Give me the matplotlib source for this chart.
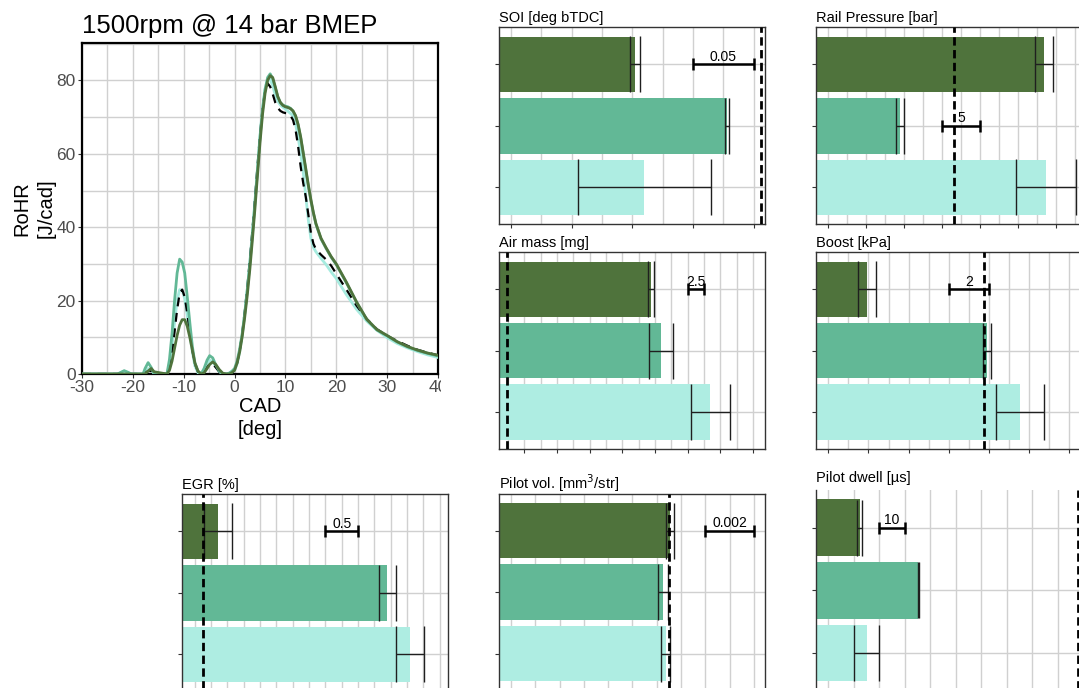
import numpy as np
import matplotlib
matplotlib.use('Agg')
import matplotlib.pyplot as plt
from matplotlib.transforms import Bbox, TransformedBbox

plt.rcParams['font.family'] = ['Liberation Sans', 'DejaVu Sans']
plt.rcParams['axes.unicode_minus'] = False

# ---------------- data: rate of heat release ----------------
cad = [-30, -23, -22.3, -21.7, -21, -20.3, -18, -17.6, -17, -16.4, -15.8, -13.3, -12.8, -12.3, -11.8, -11.3,
       -10.8, -10.3, -9.8, -9.3, -8.8, -8.3, -7.8, -7.2, -6.6, -6, -5.4, -4.9, -4.3, -3.7, -3, -2.3, -1.5, -1,
       -0.5, 0, 0.5, 1, 1.5, 2, 2.5, 3, 3.5, 4, 4.5, 5, 5.5, 6, 6.5, 7, 7.5, 8, 8.5, 9, 9.5, 10, 10.5, 11, 11.5,
       12, 12.5, 13, 13.5, 14, 14.5, 15, 15.5, 16, 17, 18, 19, 20, 22, 24, 26, 28, 30, 32, 34, 36, 38, 40]

rohr_mid = [0, 0, 0.5, 0.9, 0.5, 0, 0, 1.5, 3.1, 1.8, 0, 0, 4, 11, 20, 27.5,
            31.3, 30.5, 27.5, 21, 14, 7.5, 3, 0.8, 0, 1.5, 3.8, 5, 4.4, 2.5, 0.8, 0, 0, 0.3,
            0.8, 1.5, 3.5, 6.8, 11, 16.5, 23, 30, 38, 46.5, 55.5, 64.5, 72, 77.5, 80.8, 81.8, 80.5, 78, 75.5, 74, 73.3, 73, 72.8, 72.4, 71.6,
            70.2, 67.8, 64.3, 60, 55.5, 51.2, 47.2, 43.8, 40.8, 36.8, 34.2, 31.8, 29.8, 24.8, 19.5, 14.8, 12, 10.4, 8.7, 7.4, 6.4, 5.6, 4.9]

rohr_dark = [0, 0, 0, 0, 0, 0, 0, 0, 0.8, 1.5, 0.6, 0, 1, 3.5, 7, 10.5,
             13.3, 14.8, 14.8, 13, 10, 6.5, 3, 0.8, 0, 0.3, 1.5, 2.6, 3.3, 2.6, 1.2, 0.2, 0, 0,
             0.4, 1, 3, 6, 10.2, 15.5, 21.5, 28.5, 36.5, 45, 54, 63, 70.8, 76.5, 80, 81.3, 80.8, 78.3, 75.6, 74, 73.2, 72.8, 72.6, 72.3, 71.7,
             70.4, 68, 64.6, 60.3, 56, 51.6, 47.6, 44, 41, 37, 34.4, 32, 30, 25, 19.6, 14.9, 12.1, 10.5, 8.8, 7.5, 6.5, 5.7, 5.1]

rohr_light = [0, 0, 0.4, 0.8, 0.4, 0, 0, 0.6, 1.5, 1.2, 0, 0, 2.5, 7.5, 14, 20,
              23, 22.8, 20.5, 16, 11, 6, 2.2, 0.3, 0, 1, 2.8, 3.8, 3.4, 2, 0.6, 0, 0, 0.2,
              0.5, 1, 2.8, 6, 10.5, 16.5, 23, 30.5, 38.5, 47, 56, 65, 72.5, 77.8, 80.3, 80.3, 78.5, 76, 74.3, 73.3, 72.7, 72.2, 71.6, 71, 70.3,
              68, 64.5, 60, 55, 48.5, 42, 37, 34.5, 33.3, 31.5, 29.8, 27.8, 26, 21.6, 17.6, 14.4, 11.9, 9.9, 8.3, 7.1, 6.1, 5.2, 4.5]

rohr_ref = [0, 0, 0.2, 0.4, 0.2, 0, 0, 0.3, 0.8, 0.8, 0.2, 0, 1.5, 5.5, 11.5, 17.5,
            22, 23, 21, 16.5, 11.5, 6.5, 2.8, 0.6, 0, 0.5, 1.8, 2.7, 2.8, 1.8, 0.6, 0, 0, 0.1,
            0.4, 1, 3, 6.3, 11, 17, 23.5, 31, 39, 47.5, 56.5, 65, 72.3, 77.2, 79.2, 78.3, 76.3, 74, 72.5, 71.7, 71.3, 71.1, 71, 70.4, 69.2,
            66.5, 62, 56.5, 52, 48.3, 43.5, 38.5, 35.5, 34, 32.5, 31.2, 29.5, 27.3, 23, 18.6, 15, 12.2, 10.4, 9, 7.7, 6.6, 5.8, 5.1]

# ---------------- data: bar panels (rows: dark, medium, light) ----------------
soi_vals = [3.852, 3.928, 3.860]
soi_err = [0.004, 0.002, 0.0547]
soi_ref = 3.956
soi_scale = 0.05

rail_vals = [1478.4, 1459.4, 1478.6]
rail_err = [1.2, 0.55, 3.95]
rail_ref = 1466.6
rail_scale = 5

air_vals = [1019.4, 1020.9, 1028.5]
air_err = [0.4, 1.8, 3.05]
air_ref = 997.35
air_scale = 2.5

boost_vals = [251.93, 257.91, 259.55]
boost_err = [0.47, 0.21, 1.2]
boost_ref = 257.77
boost_scale = 2

egr_vals = [20.357, 22.943, 23.296]
egr_err = [0.214, 0.13, 0.219]
egr_ref = 20.127
egr_scale = 0.5

pvol_vals = [0.02154, 0.021255, 0.021366]
pvol_err = [0.00015, 0.00022, 0.00019]
pvol_ref = 0.021514
pvol_scale = 0.002

pdwell_vals = [512.3, 535.3, 515.06]
pdwell_err = [1.04, 0.3, 4.96]
pdwell_ref = 597.8
pdwell_scale = 10

# ---------------- style ----------------
bar_colors = ['#4f733c', '#62b896', '#aeede2']
line_colors = ['#4f733c', '#62b896', '#a6ebdf']
grid_color = '#d0d0d0'

W_PX, H_PX = 1079, 688
fig = plt.figure(figsize=(W_PX / 100, H_PX / 100), dpi=100)
fig.patch.set_facecolor('white')


def px_axes(left, top, width, height):
    return fig.add_axes([left / W_PX, 1 - (top + height) / H_PX, width / W_PX, height / H_PX])


# ---------------- left: RoHR curves ----------------
ax = px_axes(82, 43, 356, 331)
ax.plot(cad, rohr_light, color=line_colors[2], lw=2.0, zorder=3)
ax.plot(cad, rohr_ref, color='black', lw=1.6, dashes=(4, 3), zorder=4)
ax.plot(cad, rohr_mid, color=line_colors[1], lw=2.0, zorder=5)
ax.plot(cad, rohr_dark, color=line_colors[0], lw=2.0, zorder=6)
ax.set_xlim(-30, 40)
ax.set_ylim(0, 90.2)
ax.set_xticks(np.arange(-30, 41, 10))
ax.set_xticks(np.arange(-25, 40, 10), minor=True)
ax.set_yticks(np.arange(0, 81, 20))
ax.set_yticks(np.arange(10, 91, 20), minor=True)
ax.grid(which='both', color=grid_color, lw=1)
ax.set_axisbelow(True)
for s in ax.spines.values():
    s.set_linewidth(1.6)
    s.set_color('black')
ax.tick_params(which='major', labelsize=12.5, labelcolor='#4d4d4d', length=3, color='#333333', pad=1.5)
ax.tick_params(which='minor', length=0)
ax.set_title('1500rpm @ 14 bar BMEP', loc='left', fontsize=18.5, pad=7)
ax.set_xlabel('CAD\n[deg]', fontsize=14.5, linespacing=1.3)
ax.set_ylabel('RoHR\n[J/cad]', fontsize=14.5, linespacing=1.3)
ax.xaxis.set_label_coords(0.5, -0.068)
ax.yaxis.set_label_coords(-0.075, 0.5)
clipbox = TransformedBbox(Bbox([[0, 0], [441 / W_PX, 1]]), fig.transFigure)
last = ax.xaxis.get_major_ticks()[-1].label1
last.set_clip_on(True)
last.set_clip_box(clipbox)


# ---------------- bar panels ----------------
def bar_panel(box, title, vals, errs, ref, scale, scale_label, scale_x, scale_row,
              xlim, grid_step, major_step, title_pad=3.5, top_spine=True):
    a = px_axes(*box)
    rows = np.arange(len(vals))
    a.set_xlim(*xlim)
    a.set_ylim(2.6, -0.6)
    a.barh(rows, vals, height=0.9, color=bar_colors, zorder=2)
    cap_pt = box[3] / 3.2 * 0.9 / 2 * 0.72
    a.errorbar(vals, rows, xerr=errs, fmt='none', ecolor='#1f1f1f', elinewidth=1,
               capsize=cap_pt, capthick=1, zorder=3)
    a.axvline(ref, color='black', lw=2.0, dashes=(3, 1.6), zorder=4)
    a.errorbar([scale_x], [scale_row], xerr=[scale / 2], fmt='none', ecolor='black',
               elinewidth=1.8, capsize=4.6, capthick=1.8, zorder=5)
    a.annotate(scale_label, (scale_x, scale_row), xytext=(0, 0.3), textcoords='offset points',
               ha='center', va='bottom', fontsize=10, zorder=6)
    x0 = np.ceil(xlim[0] / grid_step - 1e-6) * grid_step
    minors = np.arange(x0, xlim[1], grid_step)
    m0 = np.ceil(xlim[0] / major_step - 1e-6) * major_step
    majors = np.arange(m0, xlim[1], major_step)
    a.set_xticks(majors)
    a.set_xticks(minors, minor=True)
    a.set_yticks(rows)
    a.grid(axis='x', which='both', color=grid_color, lw=1, zorder=0)
    a.grid(axis='y', which='major', color=grid_color, lw=1, zorder=0)
    a.set_axisbelow(True)
    a.tick_params(which='major', length=3, color='#333333', labelbottom=False, labelleft=False)
    a.tick_params(which='minor', length=0)
    for s in a.spines.values():
        s.set_color('#333333')
        s.set_linewidth(1.0)
    if not top_spine:
        a.spines['top'].set_visible(False)
    a.set_title(title, loc='left', fontsize=10.5, pad=title_pad)
    return a


bar_panel((499.3, 27.3, 266, 197), 'SOI [deg bTDC]', soi_vals, soi_err, soi_ref,
          soi_scale, '0.05', 3.925, 0, (3.7404, 3.9596), 0.025, 0.05)
bar_panel((816, 27.3, 266, 197), 'Rail Pressure [bar]', rail_vals, rail_err, rail_ref,
          rail_scale, '5', 1467.5, 1, (1448.38, 1483.38), 2.5, 5)
bar_panel((499.3, 252.3, 266, 196.7), 'Air mass [mg]', air_vals, air_err, air_ref,
          air_scale, '2.5', 1026.25, 0, (996.17, 1036.9), 2.5, 5)
bar_panel((816, 252.3, 266, 196.7), 'Boost [kPa]', boost_vals, boost_err, boost_ref,
          boost_scale, '2', 257.0, 0, (249.387, 262.64), 1, 2)
bar_panel((182.3, 494.3, 266, 197), 'EGR [%]', egr_vals, egr_err, egr_ref,
          egr_scale, '0.5', 22.25, 0, (19.81, 23.88), 0.25, 0.5)
bar_panel((499.3, 493.7, 266, 197), 'Pilot vol. [mm$^3$/str]', pvol_vals, pvol_err, pvol_ref,
          pvol_scale, '0.002', 0.024, 0, (0.014519, 0.025465), 0.001, 0.002)
bar_panel((816, 490, 266, 200.6), 'Pilot dwell [µs]', pdwell_vals, pdwell_err, pdwell_ref,
          pdwell_scale, '10', 525, 0, (495.18, 599.5), 10, 20, title_pad=6, top_spine=False)

fig.savefig('out.png', dpi=100)
